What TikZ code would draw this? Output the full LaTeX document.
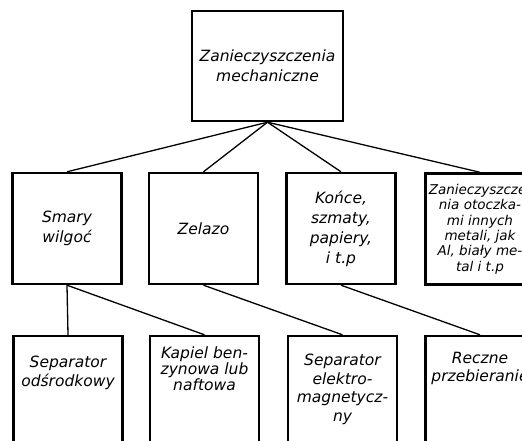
\documentclass[tikz,border=0pt]{standalone}
\usepackage{fontspec}
\setmainfont{DejaVu Sans}
\usetikzlibrary{positioning}
\tikzset{
  box/.style={draw, line width=2.4pt, inner sep=0pt, minimum width=109pt, minimum height=111pt, align=center, font=\itshape\fontsize{15.5}{20}\selectfont},
  tallbox/.style={box, minimum height=130pt},
  smalltxt/.style={font=\itshape\fontsize{13.5}{15.4}\selectfont},
  txt/.style={inner sep=0pt, align=center, font=\itshape\fontsize{15.5}{18.5}\selectfont},
  link/.style={line width=1.3pt}
}

\begin{document}
\begin{tikzpicture}[x=1pt, y=-1pt]
        \useasboundingbox (0,0) rectangle (522,441);
        \clip (0,0) rectangle (522,441);
        % gora
        \node[box, minimum width=151pt, minimum height=110pt] (zanieczyszczenia) at (267.5,66) {Zanieczyszczenia\\mechaniczne};
        % rodzaje zanieczyszczen
        \node[box] (smary) at (67,228.5) {Smary\\wilgoć};
        \node[box] (zelazo) at (203.5,228.5) {Zelazo};
        \node[box] (konce) at (341,228.5) {Końce,\\szmaty,\\papiery,\\i t.p};
        \node[box, smalltxt] (inne) at (480,229) {Zanieczyszcze-\\nia otoczka-\\mi innych\\metali, jak\\Al, biały me-\\tal i t.p};
        % sposoby usuwania
        \node[tallbox] (separator) at (68,401) {};
        \node[tallbox] (kapiel) at (204.5,401) {};
        \node[tallbox] (magnes) at (342.5,401) {};
        \node[tallbox] (reczne) at (480,401) {};
        \node[txt, below=21pt of separator.north] (separatort) {Separator\\odśrodkowy};
        \node[txt, below=12pt of kapiel.north, font=\itshape\fontsize{15.5}{16}\selectfont] (kapielt) {Kapiel ben-\\zynowa lub\\naftowa};
        \node[txt, below=19pt of magnes.north] (magnest) {Separator\\elektro-\\magnetycz-\\ny};
        \node[txt, below=17pt of reczne.north] (recznet) {Reczne\\przebieranie};
        % polaczenia
        \draw[link] (zanieczyszczenia.south) -- (smary.north);
        \draw[link] (zanieczyszczenia.south) -- (zelazo.north);
        \draw[link] (zanieczyszczenia.south) -- (konce.north);
        \draw[link] (zanieczyszczenia.south) -- (inne.north);
        \draw[link] (smary.south) -- (separator.north);
        \draw[link] (smary.south) -- (kapiel.north);
        \draw[link] (zelazo.south) -- (magnes.north);
        \draw[link] (konce.south) -- (reczne.north);
    \end{tikzpicture}
\end{document}
